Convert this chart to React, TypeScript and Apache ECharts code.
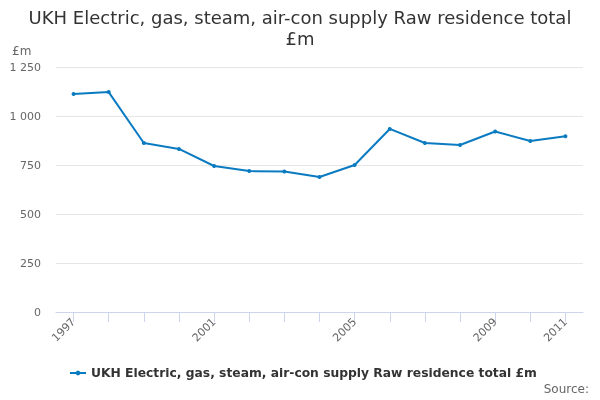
import React, { useEffect, useRef } from "react";
import * as echarts from "echarts";

const years = ["1997","1998","1999","2000","2001","2002","2003","2004","2005","2006","2007","2008","2009","2010","2011"];
const values = [1112, 1122, 862, 832, 745, 719, 717, 689, 750, 934, 862, 852, 921, 872, 897];
const yTicks = [0, 250, 500, 750, 1000, 1250];
const seriesName = "UKH Electric, gas, steam, air-con supply Raw residence total £m";
const titleText = "UKH Electric, gas, steam, air-con supply Raw residence total\n£m";
const shownLabels = ["1997", "2001", "2005", "2009", "2011"];

const fmt = (v: number) => {
  const s = String(v);
  return s.length > 3 ? s.slice(0, s.length - 3) + " " + s.slice(s.length - 3) : s;
};

export default function App() {
  const ref = useRef<HTMLDivElement>(null);
  useEffect(() => {
    if (!ref.current) return;
    const chart = echarts.init(ref.current, undefined, { renderer: "svg" });
    const font = "DejaVu Sans";
    chart.setOption({
      animation: false,
      textStyle: { fontFamily: font },
      title: {
        text: titleText,
        left: "center",
        top: 2,
        textStyle: { fontSize: 18, fontWeight: "normal", color: "#333333", lineHeight: 21, fontFamily: font },
      },
      graphic: [
        { type: "text", left: 12, top: 45, style: { text: "£m", fontSize: 12, fill: "#666666", fontFamily: font } },
        { type: "text", right: 11, top: 383, style: { text: "Source:", fontSize: 12, fill: "#666666", fontFamily: font } },
      ],
      legend: {
        data: [seriesName],
        top: 362,
        left: 64,
        itemWidth: 16,
        itemHeight: 6,
        itemGap: 4,
        textStyle: { fontSize: 12.3, fontWeight: "bold", color: "#333333", fontFamily: font },
      },
      grid: { left: 56, right: 17, top: 67, bottom: 88 },
      xAxis: {
        type: "category",
        data: years,
        boundaryGap: true,
        axisLine: { lineStyle: { color: "#ccd6eb" } },
        axisTick: { show: true, alignWithLabel: true, interval: 0, length: 10, lineStyle: { color: "#ccd6eb" } },
        axisLabel: {
          interval: (i: number, v: string) => shownLabels.includes(v),
          rotate: 45,
          fontSize: 11,
          color: "#666666",
          margin: 8,
          fontFamily: font,
        },
      },
      yAxis: {
        type: "value",
        min: yTicks[0],
        max: yTicks[yTicks.length - 1],
        interval: 250,
        axisLine: { show: false },
        axisTick: { show: false },
        splitLine: { lineStyle: { color: "#e6e6e6" } },
        axisLabel: { formatter: (v: number) => fmt(v), fontSize: 11, color: "#666666", margin: 15, fontFamily: font },
      },
      series: [
        {
          name: seriesName,
          type: "line",
          data: values,
          color: "#0b7bc1",
          symbol: "circle",
          symbolSize: 4,
          lineStyle: { width: 2, color: "#0b7bc1" },
          itemStyle: { color: "#0b7bc1" },
        },
      ],
    });
    return () => chart.dispose();
  }, []);
  return <div ref={ref} style={{ position: "fixed", left: 0, top: 0, width: 600, height: 400 }} />;
}
